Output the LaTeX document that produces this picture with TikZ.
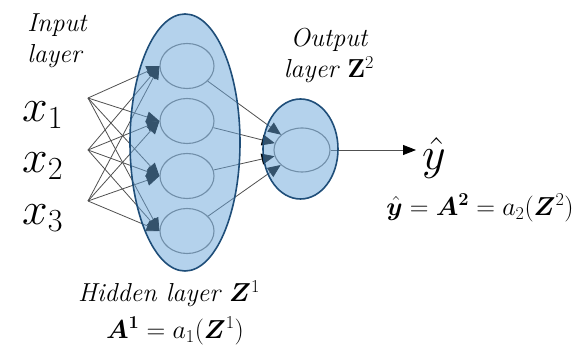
\RequirePackage{fix-cm}
\documentclass[tikz,border=0pt]{standalone}
\usepackage{amsmath,amssymb,bm}
\usepackage{xcolor}
\usepackage{tikz}
\usetikzlibrary{arrows.meta,shapes.geometric}
\definecolor{wiregray}{HTML}{505050}
\definecolor{cellgray}{HTML}{7A7A7A}
\definecolor{layerblue}{HTML}{69A5D9}
\definecolor{rim}{HTML}{1F4E79}
\tikzset{
  lbl/.style={font=\fontsize{26}{31}\selectfont\itshape,align=center,inner sep=0pt},
  eqn/.style={font=\fontsize{26}{30}\selectfont,inner sep=0pt},
  bigsym/.style={font=\fontsize{46}{50}\selectfont,inner sep=0pt},
  neuron/.style={ellipse,draw=cellgray,line width=1.1pt,minimum width=54pt,minimum height=45pt,inner sep=0pt},
  layer/.style={ellipse,draw=rim,line width=1.6pt,fill=layerblue,fill opacity=.5,inner sep=0pt},
  wire/.style={draw=wiregray,line width=.8pt,-{Triangle[length=13pt,width=11pt,color=black]}}
}
\begin{document}
\begin{tikzpicture}[x=1pt,y=-1pt]
  \useasboundingbox (0,0) rectangle (587,347);
  % inputs
  \node[bigsym,anchor=base west] (x1) at (22,122) {$x_1$};
  \node[bigsym,anchor=base west] (x2) at (22,173) {$x_2$};
  \node[bigsym,anchor=base west] (x3) at (22,225) {$x_3$};
  \coordinate (i1) at (88,98); \coordinate (i2) at (88,150); \coordinate (i3) at (88,201);
  % hidden and output cells
  \node[neuron] (h1) at (187,66) {};
  \node[neuron] (h2) at (187,121) {};
  \node[neuron] (h3) at (187,176) {};
  \node[neuron] (h4) at (187,231) {};
  \node[neuron,minimum width=56pt,minimum height=44pt] (o) at (302,150) {};
  \foreach \i in {1,2,3}
    \foreach \j in {1,...,4}
      \draw[wire] (i\i) -- (h\j.west);
  \foreach \j in {1,...,4}
    \draw[wire] (h\j) -- (o);
  \coordinate (yend) at (416,150);
  \draw[wire,-{Triangle[length=13pt,width=10pt,color=black]}] (o.east) -- (yend);
  % layer shading
  \node[layer,minimum width=110pt,minimum height=257pt] (hid) at (185,142.5) {};
  \node[layer,minimum width=75pt,minimum height=100pt] (out) at (300.5,149) {};
  % labels
  \node[bigsym] (yhat) at (434,158) {$\hat{y}$};
  \node[lbl,align=left] (inlbl) at (57,41) {Input\\layer};
  \node[lbl] (outlbl) at (329,56) {Output\\layer $\mathbf{Z}^2$};
  \node[lbl] (hidlbl) at (169,294) {Hidden layer $\boldsymbol{Z}^1$};
  \node[eqn] (hideq) at (175,331) {$\boldsymbol{A^1} = a_1(\boldsymbol{Z}^{1})$};
  \node[eqn] (outeq) at (480,208) {$\hat{\boldsymbol{y}} = \boldsymbol{A}^{\mathbf{2}} = a_2(\boldsymbol{Z}^{2})$};
\end{tikzpicture}
\end{document}
